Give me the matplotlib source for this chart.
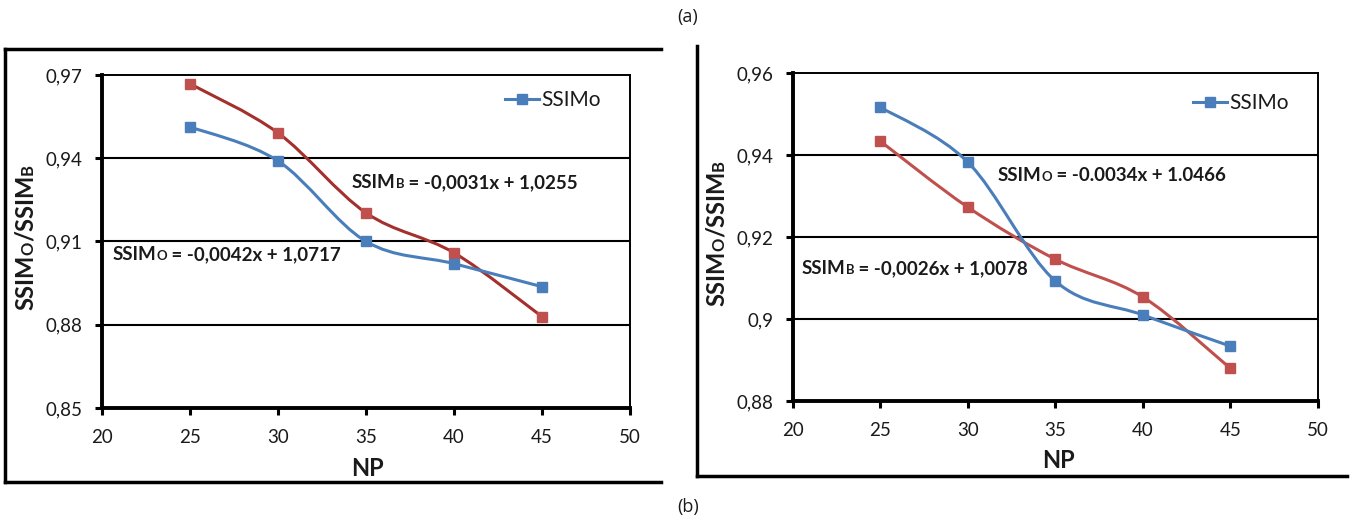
import matplotlib
matplotlib.use("Agg")
import matplotlib.pyplot as plt
import numpy as np
from matplotlib.path import Path
from matplotlib.patches import PathPatch
from matplotlib.lines import Line2D

# ---------------- data ----------------
np_values = [25, 30, 35, 40, 45]

left_ssim_o = [0.9513, 0.9390, 0.9100, 0.9020, 0.8937]
left_ssim_b = [0.9668, 0.9491, 0.9203, 0.9059, 0.8829]
left_yticks = [0.85, 0.88, 0.91, 0.94, 0.97]
left_ylabels = ["0,85", "0,88", "0,91", "0,94", "0,97"]

right_ssim_o = [0.9517, 0.9383, 0.9093, 0.9010, 0.8934]
right_ssim_b = [0.9434, 0.9273, 0.9146, 0.9054, 0.8880]
right_yticks = [0.88, 0.90, 0.92, 0.94, 0.96]
right_ylabels = ["0,88", "0,9", "0,92", "0,94", "0,96"]

xticks = [20, 25, 30, 35, 40, 45, 50]
xlabels = ["20", "25", "30", "35", "40", "45", "50"]

legend_label = "SSIMo"
x_title = "NP"
y_title = [("SSIM", 1.0), ("O", 0.7), ("/SSIM", 1.0), ("B", 0.7)]
left_eq_b = [("SSIM", 1.0), ("B", 0.7), (" = -0,0031x + 1,0255", 1.0)]
left_eq_o = [("SSIM", 1.0), ("O", 0.7), (" = -0,0042x + 1,0717", 1.0)]
right_eq_o = [("SSIM", 1.0), ("O", 0.7), (" = -0.0034x + 1.0466", 1.0)]
right_eq_b = [("SSIM", 1.0), ("B", 0.7), (" = -0,0026x + 1,0078", 1.0)]

FONT = ["Lato", "DejaVu Sans"]
plt.rcParams["font.family"] = FONT

BLUE = "#4A7EBB"
RED = "#C0504D"
DARKRED = "#A3302D"
TXT = "#1A1A1A"

W, H = 1355.0, 527.0


def smooth_path(xs, ys):
    pts = np.column_stack([xs, ys]).astype(float)
    n = len(pts)
    verts = [pts[0]]
    codes = [Path.MOVETO]
    for i in range(n - 1):
        p0 = pts[i - 1] if i > 0 else pts[i]
        p1 = pts[i]
        p2 = pts[i + 1]
        p3 = pts[i + 2] if i + 2 < n else pts[i + 1]
        c1 = p1 + (p2 - p0) / 6.0
        c2 = p2 - (p3 - p1) / 6.0
        verts += [c1, c2, p2]
        codes += [Path.CURVE4] * 3
    return Path(verts, codes)


def draw_series(ax, xs, ys, line_color, marker_color, label=None):
    patch = PathPatch(smooth_path(xs, ys), facecolor="none", edgecolor=line_color,
                      lw=2.2, zorder=3, transform=ax.transData)
    ax.add_patch(patch)
    ax.plot(xs, ys, ls="none", marker="s", ms=6.5, color=marker_color, zorder=4)
    if label:
        ax.plot([], [], color=line_color, lw=2.2, marker="s", ms=6.5,
                markerfacecolor=marker_color, markeredgecolor=marker_color, label=label)


def style_axes(ax, yticks, ylabels):
    ax.set_xlim(20, 50)
    ax.set_ylim(yticks[0], yticks[-1])
    ax.set_xticks(xticks)
    ax.set_xticklabels(xlabels, fontsize=13.5, color=TXT)
    ax.set_yticks(yticks)
    ax.set_yticklabels(ylabels, fontsize=13.5, color=TXT)
    for yt in yticks[1:-1]:
        ax.axhline(yt, color="black", lw=1.5, zorder=1)
    ax.spines["left"].set_linewidth(2.8)
    ax.spines["bottom"].set_linewidth(2.8)
    ax.spines["top"].set_linewidth(1.4)
    ax.spines["right"].set_linewidth(1.4)
    ax.tick_params(axis="both", direction="out", length=5, width=2.2)
    ax.tick_params(axis="x", pad=10)
    ax.tick_params(axis="y", pad=9)


def rich_text(x_px, y_px, pieces, size, rotation=0, center=True):
    """Text made of pieces with different sizes, sharing one baseline."""
    renderer = fig.canvas.get_renderer()
    texts = []
    lengths = []
    for s, scale in pieces:
        t = fig.text(0, 0, s, fontsize=size * scale, fontweight="bold", color=TXT,
                     rotation=rotation, rotation_mode="anchor",
                     ha="left", va="baseline")
        bb = t.get_window_extent(renderer)
        lengths.append(bb.width if rotation == 0 else bb.height)
        texts.append(t)
    total = sum(lengths)
    if rotation == 0:
        x0 = x_px - (total / 2 if center else 0)
        for t, L in zip(texts, lengths):
            t.set_position((x0 / W, 1 - y_px / H))
            x0 += L
    else:
        y0 = y_px + (total / 2 if center else 0)
        for t, L in zip(texts, lengths):
            t.set_position((x_px / W, 1 - y0 / H))
            y0 -= L


fig = plt.figure(figsize=(13.55, 5.27), dpi=100)

ax1 = fig.add_axes([0.0753, 0.2258, 0.3897, 0.632])
draw_series(ax1, np_values, left_ssim_b, DARKRED, RED)
draw_series(ax1, np_values, left_ssim_o, BLUE, BLUE, label=legend_label)
style_axes(ax1, left_yticks, left_ylabels)
ax1.legend(loc="center left", bbox_to_anchor=(505 / W, 1 - 100 / H),
           bbox_transform=fig.transFigure, frameon=False, fontsize=15,
           handlelength=1.65, handletextpad=0.1, borderpad=0, borderaxespad=0,
           labelcolor=TXT)

ax2 = fig.add_axes([0.585, 0.239, 0.3875, 0.6224])
draw_series(ax2, np_values, right_ssim_b, RED, RED)
draw_series(ax2, np_values, right_ssim_o, BLUE, BLUE, label=legend_label)
style_axes(ax2, right_yticks, right_ylabels)
ax2.legend(loc="center left", bbox_to_anchor=(1193 / W, 1 - 103 / H),
           bbox_transform=fig.transFigure, frameon=False, fontsize=15,
           handlelength=1.65, handletextpad=0.1, borderpad=0, borderaxespad=0,
           labelcolor=TXT)

# axis titles
fig.text(367 / W, 1 - 469 / H, x_title, fontsize=17, fontweight="bold",
         ha="center", va="center", color=TXT)
fig.text(1058 / W, 1 - 461 / H, x_title, fontsize=17, fontweight="bold",
         ha="center", va="center", color=TXT)
rich_text(33, 237, y_title, 17, rotation=90)
rich_text(724, 233, y_title, 17, rotation=90)

# regression equations
rich_text(352, 188, left_eq_b, 13.5, center=False)
rich_text(113, 260, left_eq_o, 13.5, center=False)
rich_text(998, 181, right_eq_o, 13.5, center=False)
rich_text(802, 274, right_eq_b, 13.5, center=False)


def fline(x0, y0, x1, y1, lw=2.5):
    fig.add_artist(Line2D([x0 / W, x1 / W], [1 - y0 / H, 1 - y1 / H],
                          color="black", lw=lw, transform=fig.transFigure))


# left panel frame
fline(5, 49, 661, 49)
fline(5, 49, 5, 482)
fline(5, 482, 661, 482)
# right panel frame
fline(697, 46, 697, 476)
fline(697, 476, 1347, 476)

fig.text(688 / W, 1 - 17 / H, "(a)", ha="center", va="center", fontsize=13,
         family=["Open Sans", "DejaVu Sans"], color=TXT)
fig.text(688 / W, 1 - 507 / H, "(b)", ha="center", va="center", fontsize=13,
         family=["Open Sans", "DejaVu Sans"], color=TXT)

fig.savefig("out.png", dpi=100)
